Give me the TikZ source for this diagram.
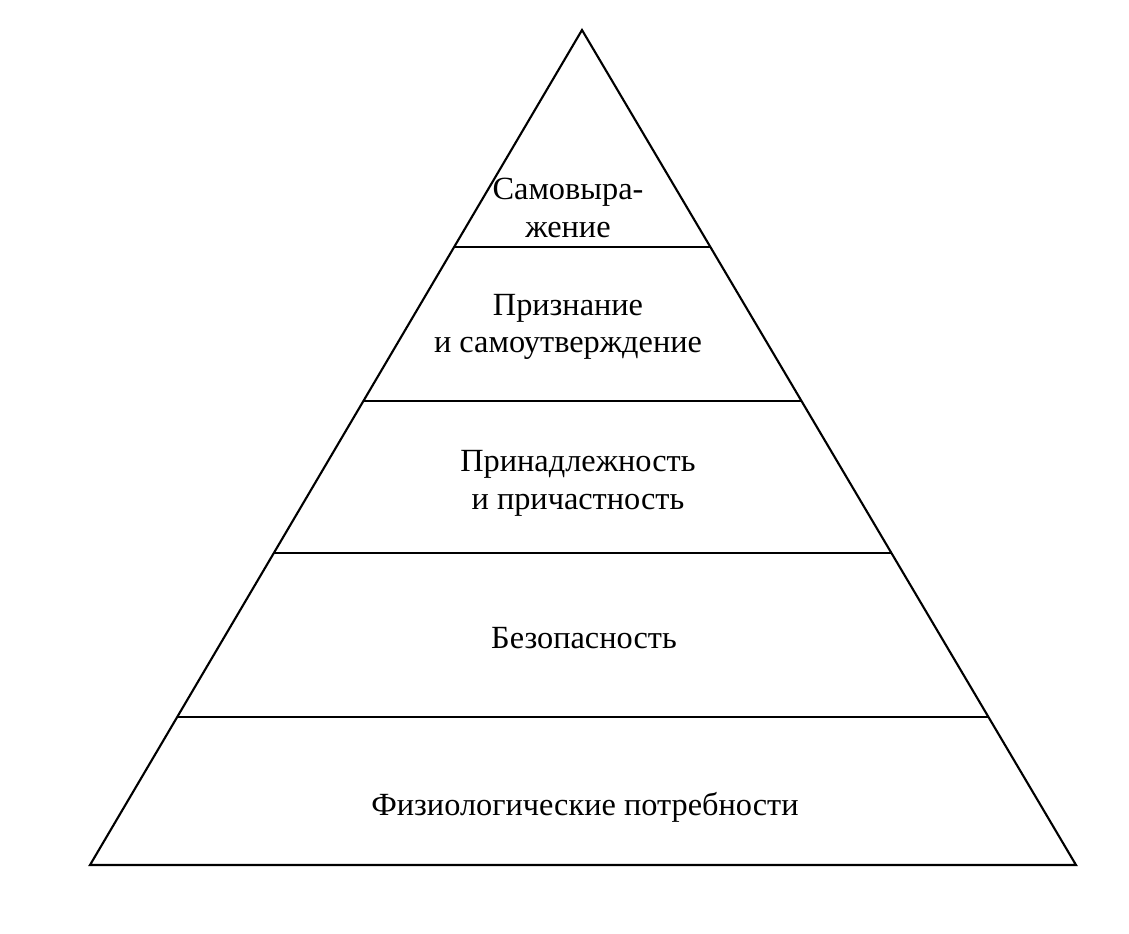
\documentclass[tikz,border=0pt]{standalone}
\usepackage{fontspec}
\setmainfont{Liberation Serif}
\begin{document}
\begin{tikzpicture}[x=0.02cm,y=-0.02cm,
  edge/.style={line width=1.2pt,line join=miter},
  lab/.style={align=center,font=\fontsize{18.4}{21.5}\selectfont}]
\useasboundingbox (0,0) rectangle (1129,933);
\coordinate (T) at (582,30);
\coordinate (L) at (90,865);
\coordinate (R) at (1076,865);
\draw[edge] (T) -- (L) -- (R) -- cycle;
\coordinate (l1) at (454,247); \coordinate (r1) at (710,247);
\coordinate (l2) at (363,401); \coordinate (r2) at (801,401);
\coordinate (l3) at (274,553); \coordinate (r3) at (891,553);
\coordinate (l4) at (177,717); \coordinate (r4) at (988,717);
\draw[edge] (l1) -- (r1);
\draw[edge] (l2) -- (r2);
\draw[edge] (l3) -- (r3);
\draw[edge] (l4) -- (r4);
\node[lab] (n1) at (568,208) {Самовыра-\\жение};
\node[lab] (n2) at (568,327) {Признание\\и самоутверждение};
\node[lab] (n3) at (578,483) {Принадлежность\\и причастность};
\node[lab] (n4) at (584,638) {Безопасность};
\node[lab] (n5) at (585,807) {Физиологические потребности};
\end{tikzpicture}
\end{document}
